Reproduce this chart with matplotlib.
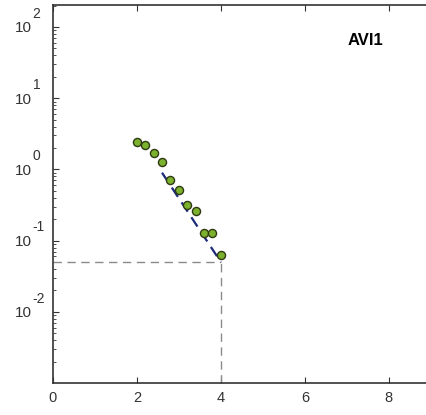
import matplotlib
matplotlib.use("Agg")
import matplotlib.pyplot as plt
from matplotlib.ticker import LogLocator, FixedLocator

plt.rcParams['font.family'] = ['Liberation Sans', 'DejaVu Sans']

x_pts = [2.0, 2.2, 2.4, 2.6, 2.8, 3.0, 3.2, 3.4, 3.6, 3.8, 4.0]
y_pts = [2.44, 2.19, 1.70, 1.28, 0.71, 0.52, 0.32, 0.26, 0.13, 0.129, 0.062]
fit_x = [2.6, 4.0]
fit_y = [0.90, 0.05]
thr_x = 4.0
thr_y = 0.0495
title = "AVI1"
xticks = [0, 2, 4, 6, 8]
ytick_exps = [-2, -1, 0, 1, 2]

fig = plt.figure(figsize=(4.26, 4.15), dpi=100)
ax = fig.add_axes([0.124, 0.077, 0.986, 0.911])
ax.set_yscale('log')
ax.set_xlim(0, 10)
ax.set_ylim(1e-3, 10**2.31)

ax.plot([0, thr_x], [thr_y, thr_y], ls=(0, (6, 4)), color='#8a8a8a', lw=1.0, zorder=2)
ax.plot([thr_x, thr_x], [1e-3, thr_y], ls=(0, (6, 4)), color='#8a8a8a', lw=1.0, zorder=2)
ax.plot(fit_x, fit_y, ls=(0, (5, 3)), color='#1c2a7a', lw=1.6, zorder=3)
ax.scatter(x_pts, y_pts, s=34, facecolor='#7cb12e', edgecolor='#2f3a12', linewidth=1.0, zorder=4)

ax.text(0.745, 0.905, title, transform=ax.transAxes, fontsize=12, fontweight='bold', ha='center', va='center')

ax.set_xticks(xticks)
ax.set_xticklabels([str(t) for t in xticks])
ax.yaxis.set_major_locator(FixedLocator([10.0**e for e in ytick_exps]))
ax.set_yticklabels([''] * len(ytick_exps))
ax.yaxis.set_minor_locator(LogLocator(base=10, subs=range(2, 10), numticks=20))
ax.yaxis.set_minor_formatter(plt.NullFormatter())

ytr = ax.get_yaxis_transform()
for e in ytick_exps:
    ax.annotate('10', xy=(0, 10.0**e), xycoords=ytr, xytext=(-15, -1), textcoords='offset points',
                ha='right', va='center', fontsize=11, color='#333333', annotation_clip=False)
    ax.annotate(str(e), xy=(0, 10.0**e), xycoords=ytr, xytext=(-14.5, 9.5), textcoords='offset points',
                ha='left', va='center', fontsize=10, color='#333333', annotation_clip=False)

ax.tick_params(axis='both', which='both', direction='in', labelsize=10.5, colors='#333333', labelcolor='#333333')
ax.tick_params(axis='x', top=True, length=4, pad=6)
ax.tick_params(axis='y', which='major', length=4, pad=4)
ax.tick_params(axis='y', which='minor', length=2)
for s in ax.spines.values():
    s.set_color('#333333')
    s.set_linewidth(1.2)

fig.savefig('out.png', dpi=100)
